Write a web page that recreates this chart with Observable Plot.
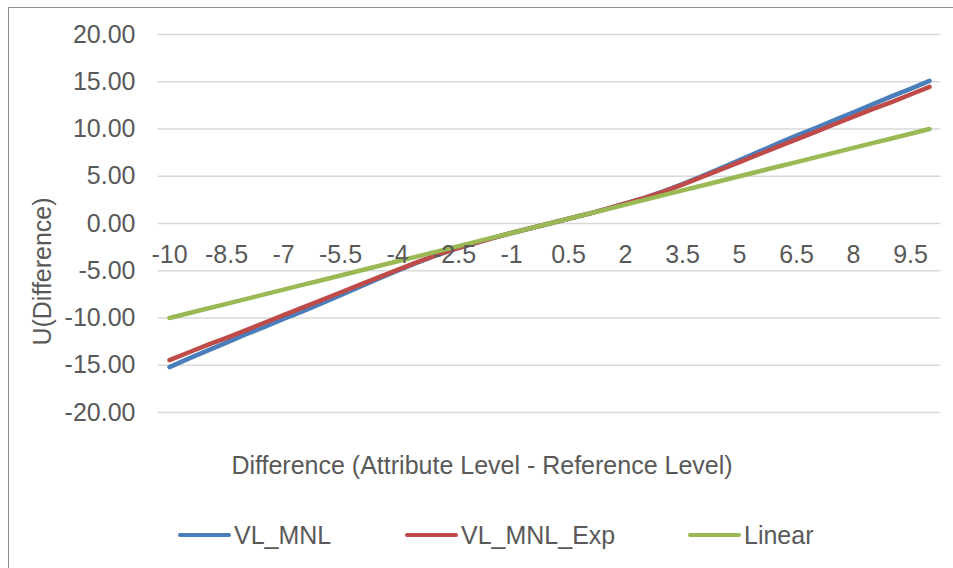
<!DOCTYPE html>
<html>
<head>
<meta charset="utf-8">
<script src="https://cdn.jsdelivr.net/npm/d3@7"></script>
<script src="https://cdn.jsdelivr.net/npm/@observablehq/plot@0.6"></script>
<style>
  html, body { margin: 0; padding: 0; background: #fff; overflow: hidden; }
  #wrap { position: relative; width: 953px; height: 568px; overflow: hidden; font-family: "Liberation Sans", Arial, sans-serif; }
  #frame { position: absolute; left: 8px; top: 7px; width: 1000px; height: 700px; border-left: 1px solid #8c8c8c; border-top: 1px solid #8c8c8c; }
  #chart { position: absolute; left: 0; top: 0; }
  #legend { position: absolute; top: 519px; left: 0; width: 953px; height: 32px; }
  .item { position: absolute; top: 0; display: flex; align-items: center; height: 32px; font-size: 25px; color: #595959; white-space: nowrap; }
  .sw { display: inline-block; width: 53px; height: 4.5px; border-radius: 3px; margin-right: 3px; }
</style>
</head>
<body>
<div id="wrap">
  <div id="frame"></div>
  <div id="chart"></div>
  <div id="legend"></div>
</div>
<script>
// Categories (x)
const categories = [-10, -9.5, -9, -8.5, -8, -7.5, -7, -6.5, -6, -5.5, -5, -4.5, -4, -3.5, -3, -2.5, -2, -1.5, -1, -0.5, 0,
  0.5, 1, 1.5, 2, 2.5, 3, 3.5, 4, 4.5, 5, 5.5, 6, 6.5, 7, 7.5, 8, 8.5, 9, 9.5, 10];

const vlMnl = [-15.2, -14.3, -13.45, -12.6, -11.75, -10.95, -10.1, -9.3, -8.45, -7.58, -6.72, -5.85, -5.0, -4.18, -3.4, -2.72, -2.12, -1.55, -1.0, -0.5, 0,
  0.5, 1.0, 1.55, 2.12, 2.72, 3.4, 4.18, 5.0, 5.85, 6.72, 7.58, 8.45, 9.3, 10.1, 10.95, 11.75, 12.6, 13.45, 14.25, 15.1];

const vlMnlExp = [-14.45, -13.65, -12.85, -12.1, -11.3, -10.5, -9.7, -8.9, -8.1, -7.3, -6.5, -5.7, -4.9, -4.12, -3.38, -2.72, -2.12, -1.55, -1.0, -0.5, 0,
  0.5, 1.0, 1.55, 2.12, 2.72, 3.38, 4.12, 4.9, 5.7, 6.5, 7.3, 8.1, 8.9, 9.7, 10.5, 11.3, 12.1, 12.85, 13.65, 14.45];

const linear = [-10, -9.5, -9, -8.5, -8, -7.5, -7, -6.5, -6, -5.5, -5, -4.5, -4, -3.5, -3, -2.5, -2, -1.5, -1, -0.5, 0,
  0.5, 1, 1.5, 2, 2.5, 3, 3.5, 4, 4.5, 5, 5.5, 6, 6.5, 7, 7.5, 8, 8.5, 9, 9.5, 10];

const xTickLabels = [-10, -8.5, -7, -5.5, -4, -2.5, -1, 0.5, 2, 3.5, 5, 6.5, 8, 9.5];
const yTicks = [-20, -15, -10, -5, 0, 5, 10, 15, 20];

const seriesNames = ["VL_MNL", "VL_MNL_Exp", "Linear"];
const seriesColors = ["#4a7ebb", "#be4b48", "#98b954"];
const xTitle = "Difference (Attribute Level - Reference Level)";
const yTitle = "U(Difference)";

const rows = categories.map((c, i) => ({x: c, VL_MNL: vlMnl[i], VL_MNL_Exp: vlMnlExp[i], Linear: linear[i]}));

const textColor = "#595959";
const fs = 25;

const chart = Plot.plot({
  width: 953,
  height: 500,
  marginLeft: 157.5,
  marginRight: 12.5,
  marginTop: 34,
  marginBottom: 88,
  style: {fontFamily: "'Liberation Sans', Arial, sans-serif", background: "transparent", overflow: "visible"},
  x: {type: "point", domain: categories, padding: 0.5, axis: null},
  y: {domain: [-20, 20], axis: null},
  marks: [
    Plot.ruleY(yTicks, {stroke: "#d9d9d9", strokeWidth: 1.3}),
    Plot.text(yTicks, {y: d => d, frameAnchor: "left", text: d => d.toFixed(2), textAnchor: "end", dx: -22.5, fontSize: fs, fill: textColor}),
    ...seriesNames.map((s, k) => Plot.line(rows, {x: "x", y: s, stroke: seriesColors[k], strokeWidth: 4.5, strokeLinecap: "round", strokeLinejoin: "round"})),
    Plot.text(xTickLabels, {x: d => d, y: () => 0, text: d => String(d), dy: 31, fontSize: fs, fill: textColor}),
    Plot.text([xTitle], {frameAnchor: "bottom", lineAnchor: "middle", dx: -67.5, dy: 53, fontSize: fs, fill: textColor}),
    Plot.text([yTitle], {frameAnchor: "left", lineAnchor: "middle", textAnchor: "middle", rotate: -90, dx: -115.5, dy: 48, fontSize: fs, fill: textColor})
  ]
});
document.getElementById("chart").appendChild(chart);

// Legend
const legendLefts = [178, 405, 688];
const legend = document.getElementById("legend");
seriesNames.forEach((s, k) => {
  const it = document.createElement("div");
  it.className = "item";
  it.style.left = legendLefts[k] + "px";
  const sw = document.createElement("span");
  sw.className = "sw";
  sw.style.background = seriesColors[k];
  it.appendChild(sw);
  it.appendChild(document.createTextNode(s));
  legend.appendChild(it);
});
</script>
</body>
</html>
